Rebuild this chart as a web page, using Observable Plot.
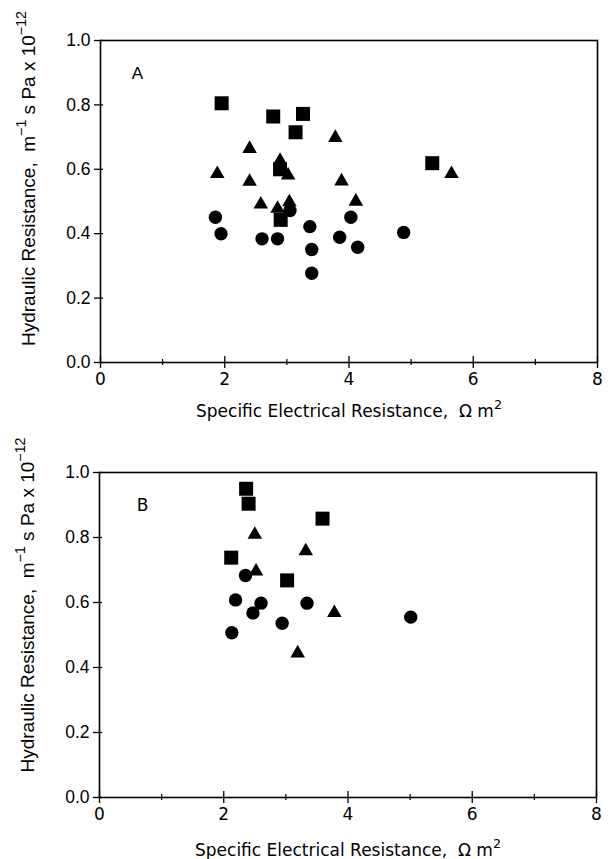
<!DOCTYPE html>
<html>
<head>
<meta charset="utf-8">
<script src="https://cdn.jsdelivr.net/npm/d3@7"></script>
<script src="https://cdn.jsdelivr.net/npm/@observablehq/plot@0.6"></script>
<style>
  html, body { margin: 0; padding: 0; background: #fff; }
  #chart { width: 616px; }
  #chart svg { display: block; }
</style>
</head>
<body>
<div id="chart"></div>
<script>
// ---------- Data ----------
const panelLetters = ["A", "B"];
const xLabel = "Specific Electrical Resistance,  Ω m²";
const yLabel = "Hydraulic Resistance,  m⁻¹ s Pa x 10⁻¹²";
const xTickLabels = [0, 2, 4, 6, 8];
const xMinorTicks = [1, 3, 5, 7];
const yTickLabels = [0, 0.2, 0.4, 0.6, 0.8, 1.0];

// Panel A
const aSquareX   = [1.95, 2.78, 3.26, 3.14, 2.89, 2.90, 5.34];
const aSquareY   = [0.805, 0.764, 0.772, 0.715, 0.600, 0.443, 0.619];
const aTriangleX = [1.88, 2.40, 2.40, 2.58, 2.89, 3.02, 3.04, 2.85, 3.78, 3.88, 4.11, 5.65];
const aTriangleY = [0.586, 0.664, 0.562, 0.491, 0.627, 0.581, 0.498, 0.478, 0.698, 0.563, 0.500, 0.586];
const aCircleX   = [1.85, 1.94, 2.60, 2.85, 3.05, 3.37, 3.40, 3.40, 3.85, 4.03, 4.14, 4.88];
const aCircleY   = [0.451, 0.400, 0.384, 0.384, 0.472, 0.422, 0.351, 0.277, 0.389, 0.451, 0.358, 0.404];

// Panel B
const bSquareX   = [2.36, 2.40, 2.12, 3.02, 3.59];
const bSquareY   = [0.950, 0.904, 0.738, 0.668, 0.858];
const bTriangleX = [2.50, 2.52, 3.32, 3.78, 3.19];
const bTriangleY = [0.809, 0.696, 0.758, 0.568, 0.444];
const bCircleX   = [2.35, 2.19, 2.60, 2.47, 2.94, 3.34, 2.13, 5.01];
const bCircleY   = [0.683, 0.608, 0.598, 0.568, 0.536, 0.598, 0.507, 0.555];

// ---------- Helpers ----------
const toPoints = (xs, ys) => xs.map((x, i) => ({x, y: ys[i]}));
const HELV = "'Liberation Sans', Arial, Helvetica, sans-serif";
const ROUND = "'DejaVu Sans', Verdana, sans-serif";

function panel(o) {
  const squares = toPoints(o.sqX, o.sqY);
  const triangles = toPoints(o.trX, o.trY);
  const circles = toPoints(o.ciX, o.ciY);
  return Plot.plot({
    width: 616,
    height: o.height,
    marginTop: o.marginTop,
    marginBottom: o.marginBottom,
    marginLeft: o.marginLeft,
    marginRight: o.marginRight,
    style: {fontFamily: HELV, fontSize: "17px", color: "black", background: "white"},
    x: {domain: [0, 8]},
    y: {domain: [0, 1]},
    marks: [
      Plot.frame({stroke: "black", strokeWidth: 1.6}),
      // y ticks crossing the axis
      Plot.axisY({ticks: yTickLabels, tickSize: 9, dx: 3, fill: "none", label: null, strokeWidth: 1.3}),
      Plot.axisY({ticks: yTickLabels, tickSize: 0, tickPadding: 10, stroke: "none", label: null,
                  tickFormat: d3.format(".1f"), fontSize: 17.5, fontFamily: HELV}),
      // x ticks crossing the axis
      Plot.axisX({ticks: xTickLabels, tickSize: 12, dy: -6, fill: "none", label: null, strokeWidth: 1.3}),
      Plot.axisX({ticks: xMinorTicks, tickSize: 6, dy: -3, fill: "none", label: null, strokeWidth: 1.2}),
      Plot.axisX({ticks: xTickLabels, tickSize: 0, tickPadding: 10, stroke: "none", label: null,
                  tickFormat: d3.format("d"), fontSize: 17, fontFamily: ROUND}),
      // symbols
      Plot.dot(squares, {x: "x", y: "y", symbol: "square", r: 7.9, fill: "black", stroke: "none"}),
      Plot.dot(triangles, {x: "x", y: "y", symbol: "triangle", r: 5.4, fill: "black", stroke: "none"}),
      Plot.dot(circles, {x: "x", y: "y", symbol: "circle", r: 6.7, fill: "black", stroke: "none"}),
      // panel letter
      Plot.text([o.letter], {frameAnchor: "top-left", dx: o.letterDx, dy: o.letterDy,
                             fontSize: 17, fontFamily: o.letterFont, fill: "black",
                             textAnchor: "middle", lineAnchor: "middle"}),
      // axis labels
      Plot.text([yLabel], {frameAnchor: "left", rotate: -90, dx: o.yLabelDx, dy: o.yLabelDy,
                           fontSize: 19, fontFamily: HELV, fill: "black",
                           textAnchor: "middle", lineAnchor: "middle"}),
      Plot.text([xLabel], {frameAnchor: "bottom", dy: o.xLabelDy,
                           fontSize: 17, fontFamily: ROUND, fill: "black",
                           textAnchor: "middle", lineAnchor: "middle"})
    ]
  });
}

// Turn unicode superscript runs into raised tspans
const supMap = {"⁻": "−", "¹": "1", "²": "2"};
function raiseSuperscripts(svg) {
  svg.querySelectorAll("text").forEach(t => {
    const s = t.textContent;
    if (!/[⁻¹²]/.test(s)) return;
    const base = parseFloat(t.getAttribute("font-size") || t.parentNode.getAttribute("font-size") || 17);
    const supSize = base * 0.75;
    const shift = base * 0.45;
    const parts = s.match(/[⁻¹²]+|[^⁻¹²]+/g);
    while (t.firstChild) t.removeChild(t.firstChild);
    const ns = "http://www.w3.org/2000/svg";
    let raised = false;
    parts.forEach(p => {
      const sp = document.createElementNS(ns, "tspan");
      if (/[⁻¹²]/.test(p)) {
        sp.textContent = [...p].map(c => supMap[c]).join("");
        sp.setAttribute("font-size", supSize + "px");
        sp.setAttribute("dy", (-shift) + "px");
        raised = true;
      } else {
        sp.textContent = p;
        if (raised) { sp.setAttribute("dy", shift + "px"); raised = false; }
      }
      t.appendChild(sp);
    });
  });
}

const chart = document.getElementById("chart");
const svgA = panel({
  sqX: aSquareX, sqY: aSquareY, trX: aTriangleX, trY: aTriangleY, ciX: aCircleX, ciY: aCircleY,
  letter: panelLetters[0], letterFont: HELV,
  height: 430, marginTop: 40, marginBottom: 68, marginLeft: 100, marginRight: 19,
  letterDx: 37, letterDy: 33, yLabelDx: -72, yLabelDy: -23, xLabelDy: 49
});
const svgB = panel({
  sqX: bSquareX, sqY: bSquareY, trX: bTriangleX, trY: bTriangleY, ciX: bCircleX, ciY: bCircleY,
  letter: panelLetters[1], letterFont: ROUND,
  height: 429, marginTop: 42, marginBottom: 62, marginLeft: 99, marginRight: 20,
  letterDx: 43, letterDy: 33, yLabelDx: -72, yLabelDy: -30, xLabelDy: 53
});
raiseSuperscripts(svgA);
raiseSuperscripts(svgB);
chart.appendChild(svgA);
chart.appendChild(svgB);
</script>
</body>
</html>
